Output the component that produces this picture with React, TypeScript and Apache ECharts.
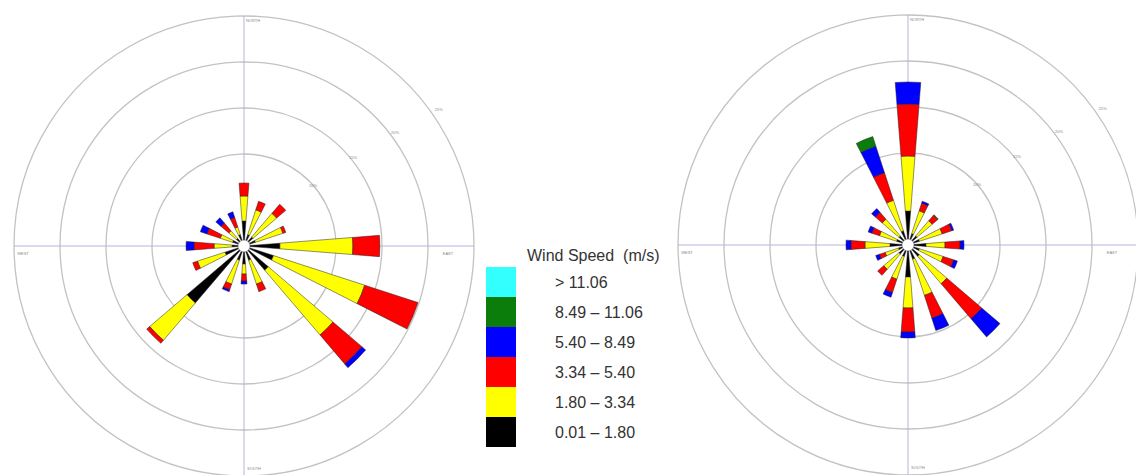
import React, { useEffect, useRef } from "react";
import * as echarts from "echarts";

const directions = ["N", "NNE", "NE", "ENE", "E", "ESE", "SE", "SSE", "S", "SSW", "SW", "WSW", "W", "WNW", "NW", "NNW"];
const speedClasses = ["0.01 – 1.80", "1.80 – 3.34", "3.34 – 5.40", "5.40 – 8.49", "8.49 – 11.06", "> 11.06"];
const classColors = ["#000000", "#ffff00", "#ff0000", "#0000ff", "#0a7d0a", "#33ffff"];
const ringTicks = [10, 15, 20, 25];
const ringLabels = ["10%", "15%", "20%", "25%"];
const compassLabels = ["NORTH", "EAST", "SOUTH", "WEST"];
const legendTitle = "Wind Speed  (m/s)";

// frequency (%) per direction, per speed class — left rose
const leftBlack = [2.72, 1.3, 1.3, 1.3, 3.91, 3.37, 3.48, 1.63, 1.96, 1.63, 8.15, 2.17, 1.3, 1.3, 1.09, 1.3];
const leftYellow = [2.72, 2.83, 3.37, 3.15, 7.93, 10.43, 9.24, 2.72, 1.09, 2.72, 5.33, 3.15, 1.96, 1.41, 1.09, 0.87];
const leftRed = [1.41, 0.98, 1.3, 0.33, 2.93, 6.09, 4.13, 0.87, 0.76, 0.65, 0.43, 0.54, 2.17, 1.52, 1.09, 1.09];
const leftBlue = [0, 0, 0, 0, 0, 0, 0.54, 0, 0.33, 0.22, 0, 0, 0.87, 0.76, 0.76, 0.65];
const leftGreen = [0, 0, 0, 0, 0, 0, 0, 0, 0, 0, 0, 0, 0, 0, 0, 0];
const leftCyan = [0, 0, 0, 0, 0, 0, 0, 0, 0, 0, 0, 0, 0, 0, 0, 0];

// right rose
const rightBlack = [3.7, 1.3, 1.3, 1.3, 1.96, 1.3, 1.63, 1.63, 3.48, 1.3, 1.3, 1.09, 1.96, 1.3, 1.3, 1.63];
const rightYellow = [5.98, 2.61, 2.17, 2.61, 2.07, 2.72, 3.91, 4.13, 3.37, 2.61, 2.17, 1.52, 2.72, 1.96, 2.39, 3.48];
const rightRed = [5.65, 0.87, 0.76, 1.09, 1.63, 1.2, 5.0, 2.61, 2.61, 1.52, 0.87, 0.65, 1.52, 0.87, 0.98, 3.15];
const rightBlue = [2.39, 0.22, 0, 0.22, 0.43, 0.43, 2.61, 1.41, 0.65, 0.54, 0, 0.43, 0.54, 0.43, 0.54, 3.04];
const rightGreen = [0, 0, 0.1, 0, 0, 0, 0, 0, 0, 0, 0, 0, 0, 0, 0, 1.09];
const rightCyan = [0, 0, 0, 0, 0, 0, 0, 0, 0, 0, 0, 0, 0, 0, 0, 0];

const leftData = [leftBlack, leftYellow, leftRed, leftBlue, leftGreen, leftCyan];
const rightData = [rightBlack, rightYellow, rightRed, rightBlue, rightGreen, rightCyan];

const MAXV = 25;
const R = 230;
const centers: [number, number][] = [[244, 246], [908, 245]];

export default function App() {
  const ref = useRef<HTMLDivElement>(null);
  useEffect(() => {
    if (!ref.current) return;
    const chart = echarts.init(ref.current, null, { renderer: "svg" });

    const polar: any[] = [];
    const angleAxis: any[] = [];
    const radiusAxis: any[] = [];
    const series: any[] = [];
    const graphic: any[] = [];
    const hidden = { axisLine: { show: false }, axisTick: { show: false }, axisLabel: { show: false }, splitLine: { show: false } };

    centers.forEach((c, ri) => {
      // grid polar (rings + cross)
      polar.push({ center: c, radius: [0, R] });
      angleAxis.push({
        polarIndex: ri * 2, type: "value", min: 0, max: 360, interval: 90, startAngle: 0,
        axisLine: { show: false }, axisTick: { show: false }, axisLabel: { show: false },
        splitLine: { show: true, lineStyle: { color: "#b4b6dc", width: 1 } },
      });
      radiusAxis.push({
        polarIndex: ri * 2, type: "value", min: 0, max: MAXV, interval: 5,
        axisLine: { show: false }, axisTick: { show: false }, axisLabel: { show: false },
        splitLine: {
          show: true,
          lineStyle: { color: ["rgba(0,0,0,0)", "rgba(0,0,0,0)", "#c2c2c2", "#c2c2c2", "#c2c2c2", "#c2c2c2"], width: 1.3 },
        },
      });
      // bar polar
      polar.push({ center: c, radius: [0, R] });
      angleAxis.push({ polarIndex: ri * 2 + 1, type: "category", data: directions, startAngle: 90 + 11.25, ...hidden });
      radiusAxis.push({ polarIndex: ri * 2 + 1, type: "value", min: 0, max: MAXV, ...hidden });

      const data = ri === 0 ? leftData : rightData;
      speedClasses.forEach((name, k) => {
        series.push({
          type: "bar", name, coordinateSystem: "polar", polarIndex: ri * 2 + 1,
          stack: "rose" + ri, barWidth: "40%",
          data: data[k].map((v) => (v > 0 ? v : null)),
          itemStyle: { color: classColors[k], borderColor: "#222", borderWidth: 0.5 },
          emphasis: { disabled: true },
        });
      });

      // center hole
      graphic.push({ type: "circle", z: 100, shape: { cx: c[0], cy: c[1], r: 6 }, style: { fill: "#fff", stroke: "#666", lineWidth: 0.6 } });

      // compass labels
      const cl = [
        { x: c[0] + 9, y: c[1] - 226 },
        { x: c[0] + 204, y: c[1] + 7 },
        { x: c[0] + 10, y: c[1] + 222 },
        { x: c[0] - 221, y: c[1] + 7 },
      ];
      compassLabels.forEach((t, i) => {
        graphic.push({
          type: "text", z: 100, x: cl[i].x, y: cl[i].y,
          style: { text: t, fontSize: 4, fill: "#888", align: "center", verticalAlign: "middle", fontFamily: "Liberation Sans" },
        });
      });
      // ring labels
      ringTicks.forEach((v, i) => {
        const rr = (v / MAXV) * R;
        const lr = rr * 1.06 - 6;
        const ang = ((41 - ((rr - 92) / 138) * 6) * Math.PI) / 180;
        graphic.push({
          type: "text", z: 100, x: c[0] + lr * Math.cos(ang), y: c[1] - lr * Math.sin(ang),
          style: { text: ringLabels[i], fontSize: 4, fill: "#888", align: "center", verticalAlign: "middle", fontFamily: "Liberation Sans" },
        });
      });
    });

    chart.setOption({
      animation: false,
      backgroundColor: "#fff",
      title: {
        text: legendTitle, left: 527, top: 247, padding: 0,
        textStyle: { fontSize: 16, fontWeight: "normal", color: "#333", fontFamily: "Liberation Sans" },
      },
      legend: {
        orient: "vertical", left: 486, top: 267, padding: 0, itemWidth: 30, itemHeight: 30, itemGap: 0,
        icon: "rect", selectedMode: false,
        data: [...speedClasses].reverse(),
        itemStyle: { borderWidth: 0 },
        textStyle: { fontSize: 16, color: "#333", fontFamily: "Liberation Sans", padding: [4, 0, 0, 34] },
      },
      polar, angleAxis, radiusAxis, series, graphic,
    });
    return () => chart.dispose();
  }, []);
  return <div ref={ref} style={{ position: "fixed", left: 0, top: 0, width: 1136, height: 475 }} />;
}
